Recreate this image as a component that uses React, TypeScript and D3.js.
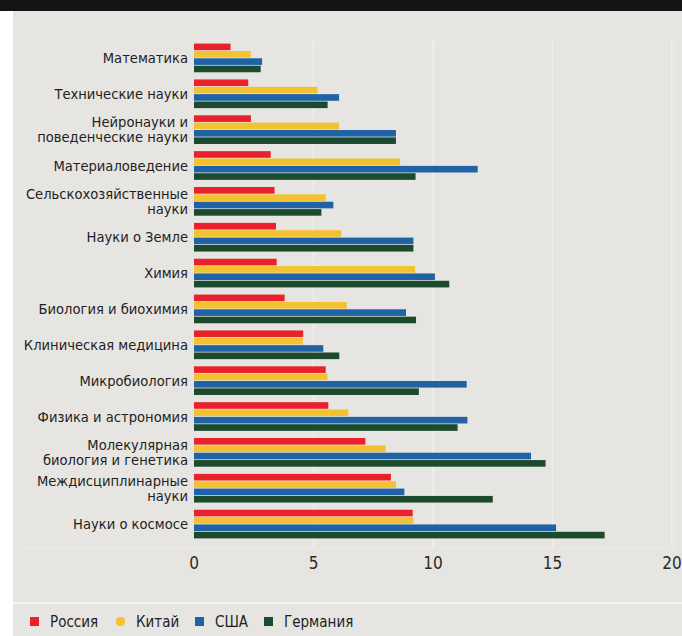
import React from "react";
import * as d3 from "d3";

const categories = [
  ["Математика"],
  ["Технические науки"],
  ["Нейронауки и", "поведенческие науки"],
  ["Материаловедение"],
  ["Сельскохозяйственные", "науки"],
  ["Науки о Земле"],
  ["Химия"],
  ["Биология и биохимия"],
  ["Клиническая медицина"],
  ["Микробиология"],
  ["Физика и астрономия"],
  ["Молекулярная", "биология и генетика"],
  ["Междисциплинарные", "науки"],
  ["Науки о космосе"],
];

const seriesNames = ["Россия", "Китай", "США", "Германия"];
const seriesColors = ["#e8212b", "#f4c230", "#1f63a6", "#1c4a2c"];

const russia = [1.53, 2.27, 2.38, 3.21, 3.37, 3.43, 3.46, 3.79, 4.57, 5.51, 5.62, 7.17, 8.24, 9.15];
const china = [2.38, 5.17, 6.07, 8.62, 5.51, 6.16, 9.25, 6.39, 4.55, 5.58, 6.46, 8.02, 8.45, 9.18];
const usa = [2.85, 6.07, 8.45, 11.87, 5.83, 9.18, 10.08, 8.87, 5.41, 11.41, 11.44, 14.1, 8.8, 15.15];
const germany = [2.79, 5.59, 8.45, 9.27, 5.33, 9.18, 10.68, 9.29, 6.08, 9.41, 11.03, 14.71, 12.5, 17.18];

const xTicks = [0, 5, 10, 15, 20];

const W = 682;
const H = 636;
const FONT = "'DejaVu Sans Condensed', 'Liberation Sans Narrow', Arial, sans-serif";

export default function App() {
  const values = [russia, china, usa, germany];
  const keys = categories.map((c) => c.join(" "));
  const x = d3.scaleLinear().domain([0, 20]).range([194, 672]);
  const y = d3.scaleBand<string>().domain(keys).range([40, 542]).paddingInner(0.2).paddingOuter(0.1);
  const ys = d3.scaleBand<number>().domain([0, 1, 2, 3]).range([0, y.bandwidth()]).paddingInner(0.1);

  const legendX = [30, 116, 195, 264];

  return (
    <svg width={W} height={H} style={{ position: "absolute", left: 0, top: 0 }} fontFamily={FONT}>
      <rect x={0} y={0} width={W} height={H} fill="#ffffff" />
      <rect x={13} y={0} width={W - 13} height={H} fill="#e6e5e1" />
      <rect x={0} y={0} width={W} height={11} fill="#141414" />
      <line x1={13} x2={W} y1={603} y2={603} stroke="#f4f4f2" strokeWidth={2} />
      <rect x={24} y={40} width={651} height={508} fill="none" stroke="#ebebe8" strokeWidth={1} />
      {xTicks.slice(1).map((t) => (
        <line key={t} x1={x(t)} x2={x(t)} y1={40} y2={548} stroke="#efefec" strokeWidth={1.5} />
      ))}
      {categories.map((lines, i) => {
        const k = keys[i];
        const y0 = y(k)!;
        const cy = y0 + y.bandwidth() / 2;
        return (
          <g key={k}>
            {values.map((arr, s) => (
              <rect
                key={s}
                x={x(0)}
                y={y0 + ys(s)!}
                width={x(arr[i]) - x(0)}
                height={ys.bandwidth()}
                fill={seriesColors[s]}
              />
            ))}
            {lines.map((ln, j) => (
              <text
                key={j}
                x={188}
                y={cy + (j - (lines.length - 1) / 2) * 15}
                dy="0.35em"
                textAnchor="end"
                fontSize={14.6}
                fill="#1e1e1e"
              >
                {ln}
              </text>
            ))}
          </g>
        );
      })}
      {xTicks.map((t) => (
        <text key={t} x={x(t)} y={563} dy="0.35em" textAnchor="middle" fontSize={17} fill="#2a2a2a">
          {t}
        </text>
      ))}
      {seriesNames.map((n, s) => (
        <g key={n}>
          <rect x={legendX[s]} y={617} width={9} height={9} fill={seriesColors[s]} rx={s === 1 ? 4 : 0} />
          <text x={legendX[s] + 20} y={621.5} dy="0.35em" fontSize={15} fill="#1e1e1e">
            {n}
          </text>
        </g>
      ))}
    </svg>
  );
}
